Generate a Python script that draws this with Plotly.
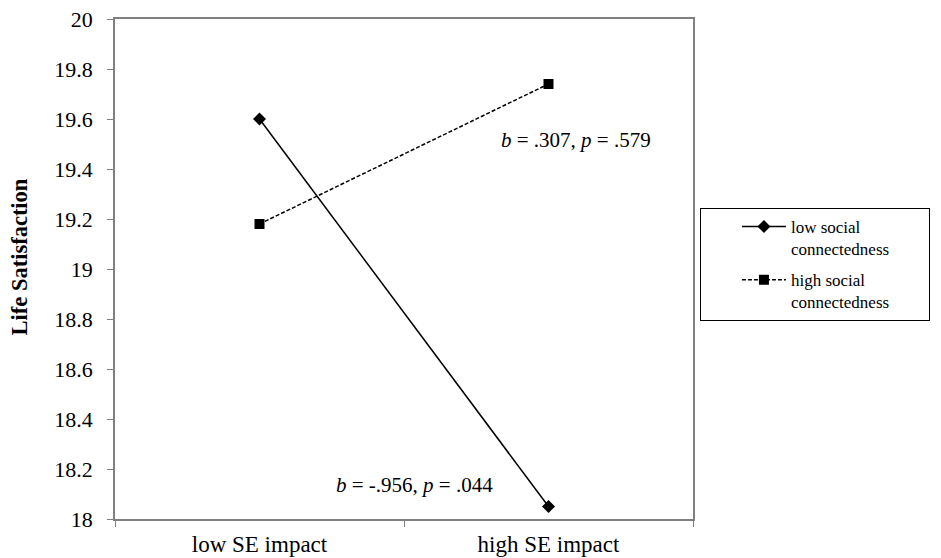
import plotly.graph_objects as go

categories = ["low SE impact", "high SE impact"]
low_social = [19.6, 18.05]
high_social = [19.18, 19.74]
series_names = ["low social<br>connectedness", "high social<br>connectedness"]
y_ticks = [18, 18.2, 18.4, 18.6, 18.8, 19, 19.2, 19.4, 19.6, 19.8, 20]
y_ticktext = ["18", "18.2", "18.4", "18.6", "18.8", "19", "19.2", "19.4", "19.6", "19.8", "20"]
y_title = "Life Satisfaction"

FONT = "Liberation Serif"
PAD = "&nbsp;" * 8

fig = go.Figure()
fig.add_trace(go.Scatter(
    x=categories, y=low_social, name=series_names[0] + PAD, mode="lines+markers",
    legendgroup="a",
    line=dict(color="black", width=1.5),
    marker=dict(symbol="diamond", size=10, color="black"),
))
fig.add_trace(go.Scatter(
    x=categories, y=high_social, name=series_names[1] + PAD, mode="lines+markers",
    legendgroup="b",
    line=dict(color="black", width=1.5, dash="4px,2px"),
    marker=dict(symbol="square", size=10, color="black"),
))

fig.add_annotation(x=1.095, y=19.516, xref="x", yref="y", showarrow=False,
                   text="<i>b</i> = .307, <i>p</i> = .579",
                   font=dict(family=FONT, size=21, color="black"))
fig.add_annotation(x=0.538, y=18.136, xref="x", yref="y", showarrow=False,
                   text="<i>b</i> = -.956, <i>p</i> = .044",
                   font=dict(family=FONT, size=21, color="black"))
fig.add_annotation(x=-0.1644, y=0.525, xref="paper", yref="paper", showarrow=False,
                   text="<b>" + y_title + "</b>", textangle=-90,
                   xanchor="center", yanchor="middle",
                   font=dict(family=FONT, size=22.5, color="black"))

fig.update_layout(
    width=933, height=550,
    margin=dict(l=107, r=248, t=11, b=39, autoexpand=False),
    paper_bgcolor="white", plot_bgcolor="white",
    font=dict(family=FONT, size=22, color="black"),
    showlegend=True,
    legend=dict(
        x=1.012, y=0.622, xanchor="left", yanchor="top",
        bordercolor="black", borderwidth=1, bgcolor="white",
        font=dict(family=FONT, size=17, color="black"),
        itemwidth=44, traceorder="grouped", tracegroupgap=6,
        valign="top", indentation=36,
    ),
    xaxis=dict(
        type="category", range=[-0.5, 1.5], automargin=False,
        showgrid=False, zeroline=False,
        showline=True, linecolor="#808080", linewidth=1.5, mirror=True,
        ticks="outside", tickson="boundaries", ticklen=6, tickcolor="#808080",
        ticklabelstandoff=4, ticklabeloverflow="allow",
        tickfont=dict(family=FONT, size=23, color="black"),
    ),
    yaxis=dict(
        range=[18, 20], tickvals=y_ticks, ticktext=y_ticktext, automargin=False,
        showgrid=False, zeroline=False,
        showline=True, linecolor="#808080", linewidth=1.5, mirror=True,
        ticks="outside", ticklen=6, tickcolor="#808080",
        ticklabelstandoff=10, ticklabeloverflow="allow",
        tickfont=dict(family=FONT, size=22, color="black"),
    ),
)

fig.write_html("out.html")
